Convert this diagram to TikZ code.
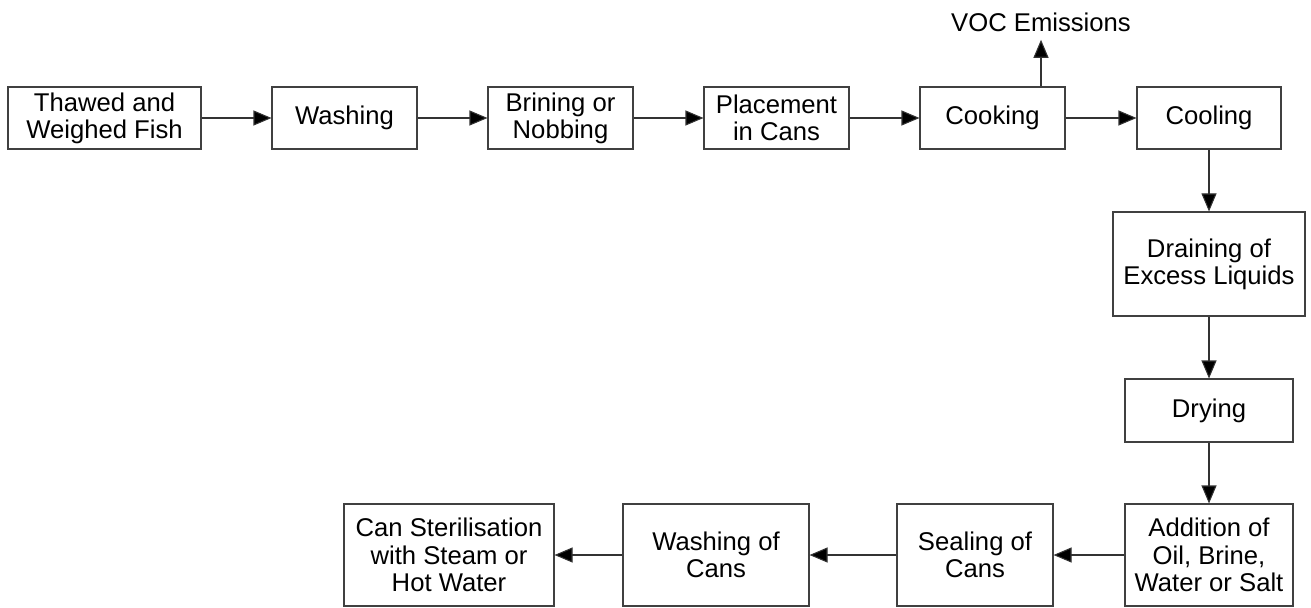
\documentclass[tikz,border=0pt]{standalone}
\usepackage{fontspec}
\setmainfont{Liberation Sans}
\usepackage{tikz}
\usetikzlibrary{arrows.meta,positioning}

\begin{document}
\begin{tikzpicture}[
    proc/.style={draw=black!75, line width=0.6pt, rectangle, align=center, inner sep=0pt, minimum height=1.24cm, font=\fontsize{14.6}{15.5}\selectfont},
    flow/.style={-{Triangle[length=0.36cm, width=0.3cm, fill=black]}, line width=0.6pt, draw=black!80}
]
    \useasboundingbox (0,0) rectangle (26.22,-12.16);

    \node[proc, minimum width=3.86cm] (thawed) at (2.09,-2.36) {Thawed and\\Weighed Fish};
    \node[proc, minimum width=2.90cm] (washing) at (6.89,-2.36) {Washing};
    \node[proc, minimum width=2.90cm] (brining) at (11.21,-2.36) {Brining or\\Nobbing};
    \node[proc, minimum width=2.90cm] (placement) at (15.53,-2.36) {Placement\\in Cans};
    \node[proc, minimum width=2.90cm] (cooking) at (19.85,-2.36) {Cooking};
    \node[proc, minimum width=2.88cm] (cooling) at (24.18,-2.36) {Cooling};

    \node[font=\fontsize{14.6}{15.5}\selectfont, inner sep=0pt] (voc) at (20.82,-0.44) {VOC Emissions};

    \node[proc, minimum width=3.84cm, minimum height=2.08cm] (draining) at (24.18,-5.28) {Draining of\\Excess Liquids};
    \node[proc, minimum width=3.36cm, minimum height=1.26cm] (drying) at (24.18,-8.21) {Drying};
    \node[proc, minimum width=3.36cm, minimum height=2.04cm] (addition) at (24.18,-11.10) {Addition of\\Oil, Brine,\\Water or Salt};

    \node[proc, minimum width=3.12cm, minimum height=2.04cm] (sealing) at (19.50,-11.10) {Sealing of\\Cans};
    \node[proc, minimum width=3.72cm, minimum height=2.04cm] (washcans) at (14.32,-11.10) {Washing of\\Cans};
    \node[proc, minimum width=4.20cm, minimum height=2.04cm] (steril) at (8.98,-11.10) {Can Sterilisation\\with Steam or\\Hot Water};

    \draw[flow] (thawed) -- (washing);
    \draw[flow] (washing) -- (brining);
    \draw[flow] (brining) -- (placement);
    \draw[flow] (placement) -- (cooking);
    \draw[flow] (cooking) -- (cooling);
    \draw[flow] (voc.south |- cooking.north) -- ([yshift=-0.16cm]voc.south);
    \draw[flow] (cooling) -- (draining);
    \draw[flow] (draining) -- (drying);
    \draw[flow] (drying) -- (addition);
    \draw[flow] (addition) -- (sealing);
    \draw[flow] (sealing) -- (washcans);
    \draw[flow] (washcans) -- (steril);
\end{tikzpicture}
\end{document}
